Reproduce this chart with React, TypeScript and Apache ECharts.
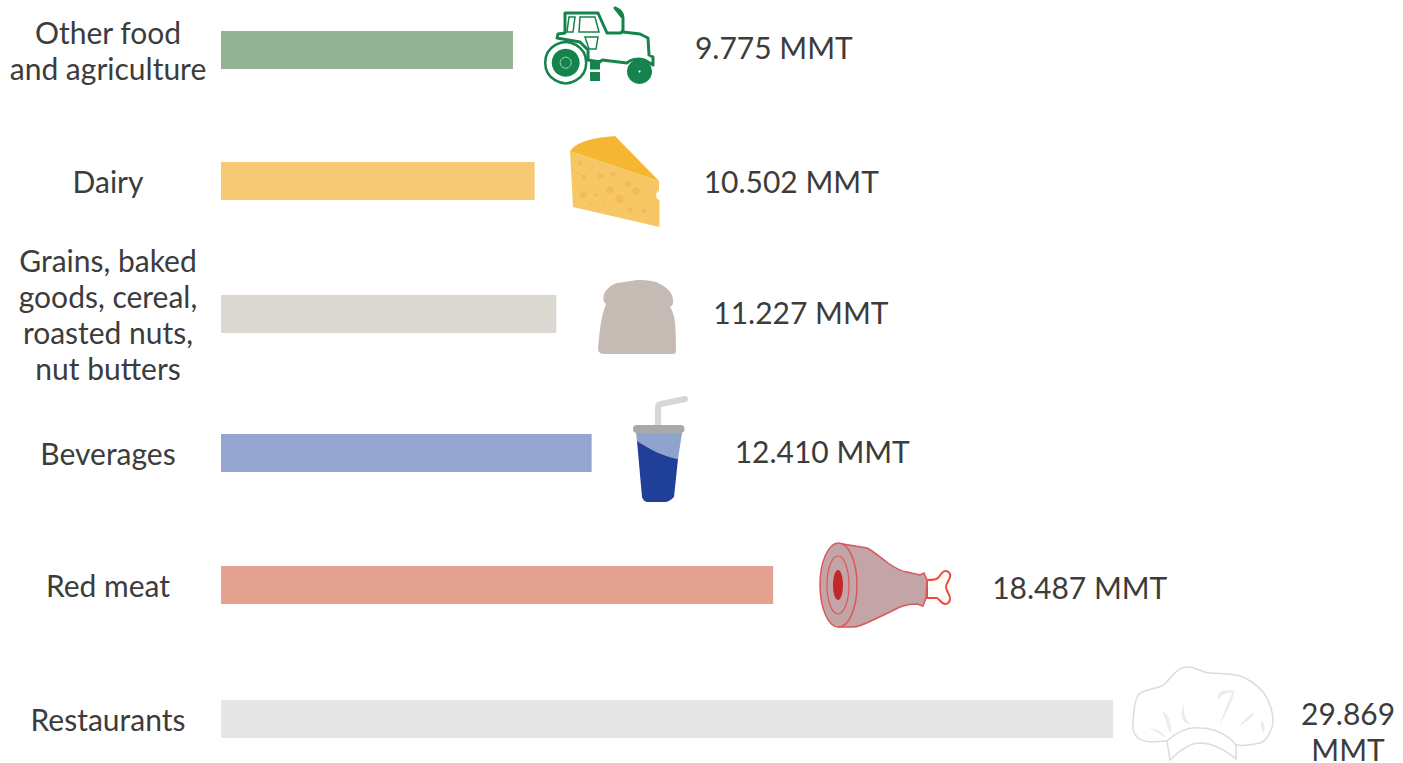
import React, { useEffect, useRef } from "react";
import * as echarts from "echarts";

const categories = [
  "Other food\nand agriculture",
  "Dairy",
  "Grains, baked\ngoods, cereal,\nroasted nuts,\nnut butters",
  "Beverages",
  "Red meat",
  "Restaurants",
];
const values = [9.775, 10.502, 11.227, 12.41, 18.487, 29.869];
const unit = "MMT";
const barColors = ["#93b195", "#f7c974", "#dbd8d2", "#94a6d0", "#e3a28f", "#e6e6e6"];

const FONT = "Lato";
const TEXT = "#3c3c3c";
const rowTops = [31, 162, 295, 434, 566, 700];
const catShift = [-6, -4, 4, -6, -4, -2];
const valueGap = [182, 169, 157, 143, 219, 235];
const valueShift = [-3, 0, -2, -2, 2, 12];

const SHAPES: Record<string, string> = {
  tractorBody:
    "M565 13 L598 13 L607 33 L621 33 L623 30 L623 18 L615 8 C620 10 623 13 623 18 L623 32 L640 34 L648 38 L649 55 L653 57 L653 65 L648 62 C642 58 632 58 627 63 L602 60 L600 62 L588 60 L588 50 L580 42 L557 38 L558 34 L565 33 Z",
  cheeseTop: "M570 151 C578 141 592 138 615 136 L659 181 Z",
  cheeseFront:
    "M570 151 L659 181 L659 191 C655 192 655 199 659.5 200 L659.5 227 L573 207 Z",
  bread:
    "M604 302 C601 294 608 286 617 283 C625 282 630 281 637 280 C648 280 656 281 660 284 C668 288 673 294 673 300 C674 304 672 306 670 307 C675 315 676 322 676 350 C676 353 675 354 673 354 L605 354 C600 354 598 352 598 348 C600 330 600 320 606 304 Z",
  cupLight: "M636 433 L682 433 L678 459 C662 456 650 449 637 441 Z",
  cupDark: "M637 441 C650 449 662 456 678 459 L674 497 C670 501 667 502 665 502 L648 502 C645 502 643 500 642 497 Z",
  straw: "M658 427 L658 408 C658 405 659 404 661 404 L685 399",
  hamBody:
    "M843 544 L867 548 C875 552 882 559 888 563 C895 568 900 571 907 572 L920 575 L924 573 L927 580 L926 598 L923 606 L917 604 C910 604 905 605 900 607 C890 612 880 617 873 620 C865 624 858 627 853 627 L838 627 L838 544 Z",
  hamBone:
    "M927 580 C932 580 936 580 938 578 C941 574 943 571 945 571 C949 571 951 574 950 577 C949 581 946 583 946 587 C946 591 950 594 950 598 C950 602 948 604 945 604 C942 604 940 600 937 598 L927 598 Z",
  hat: "M1167 741 C1155 742 1145 743 1138 738 C1134 734 1132 728 1133 722 C1134 710 1134 702 1138 695 C1144 689 1155 689 1162 686 C1170 681 1175 668 1186 667 C1195 666 1202 673 1210 673 C1222 674 1234 673 1243 677 C1255 683 1263 690 1267 698 C1271 706 1273 714 1273 722 C1272 732 1266 741 1260 743 C1252 745 1244 746 1236 745 Z",
  hatBand:
    "M1167 741 C1178 731 1190 727 1200 728 C1215 728 1228 735 1236 745 L1236 759 C1225 750 1212 743 1200 743 C1190 743 1180 750 1170 760 Z",
  hatShade1: "M1148 727 C1155 731 1161 735 1166 738 C1164 732 1155 729 1148 727 Z",
  hatShade2: "M1161 710 C1168 720 1166 730 1171 733 C1171 725 1171 716 1161 710 Z",
  hatShade3: "M1184 704 C1180 712 1180 722 1191 725 C1185 720 1183 712 1184 704 Z",
  hatShade4: "M1232 692 C1228 705 1222 715 1220 725 C1226 712 1232 705 1234 692 Z",
  hatShade5: "M1218 700 C1216 690 1228 688 1236 692 C1228 692 1222 694 1218 700 Z",
  hatShade6: "M1252 713 C1246 718 1242 722 1238 727 C1246 722 1250 719 1254 714 Z",
  hatShade7: "M1262 720 C1265 725 1265 730 1264 733 C1261 730 1260 725 1262 720 Z",
};
Object.entries(SHAPES).forEach(([name, d]) => {
  echarts.graphic.registerShape(name, echarts.graphic.extendPath(d, {}));
});

const GREEN = "#15834c";
const HAM = "#d9575a";
const CHEESE_HOLE = "#f0b658";
const cheeseHoles = [
  [580, 163, 2.5], [584, 177, 2.5], [601, 176, 3], [613, 174, 2.5], [628, 184, 3], [636, 191, 4],
  [583, 195, 3.2], [596, 195, 1.8], [610, 190, 4], [619.5, 199, 4.2], [591, 204, 1], [605, 205, 1.2],
  [630, 210, 2.5], [644, 211, 2], [578, 173, 1], [592, 167, 1],
];

const graphics: any[] = [
  // tractor
  { type: "tractorBody", style: { fill: "#fff", stroke: GREEN, lineWidth: 3, lineJoin: "round" } },
  { type: "rect", shape: { x: 590, y: 60, width: 10, height: 21 }, style: { fill: GREEN } },
  { type: "rect", shape: { x: 590, y: 69.5, width: 10, height: 2.5 }, style: { fill: "#fff" } },
  { type: "polygon", shape: { points: [[569, 17], [575, 17], [573, 32], [567, 32]] }, style: { fill: "#fff", stroke: GREEN, lineWidth: 1.5 } },
  { type: "polygon", shape: { points: [[580, 17], [595, 17], [599, 32], [579, 32]] }, style: { fill: "#fff", stroke: GREEN, lineWidth: 1.5 } },
  { type: "polygon", shape: { points: [[585, 37], [598, 37], [596, 49], [589, 49]] }, style: { fill: "#fff", stroke: GREEN, lineWidth: 1.5 } },
  { type: "circle", shape: { cx: 565.7, cy: 62.7, r: 20.5 }, style: { fill: "#fff", stroke: GREEN, lineWidth: 2.5 } },
  { type: "circle", shape: { cx: 565.7, cy: 62.7, r: 14 }, style: { fill: GREEN } },
  { type: "circle", shape: { cx: 565.7, cy: 62.7, r: 5.5 }, style: { fill: GREEN, stroke: "#a9d3bb", lineWidth: 1 } },
  { type: "circle", shape: { cx: 639.5, cy: 71.5, r: 12.5 }, style: { fill: GREEN } },
  { type: "circle", shape: { cx: 639.5, cy: 71.5, r: 1 }, style: { fill: "#fff" } },
  // cheese
  { type: "cheeseFront", style: { fill: "#f7c765" } },
  { type: "cheeseTop", style: { fill: "#f5b632" } },
  ...cheeseHoles.map(([cx, cy, r]) => ({ type: "circle", shape: { cx, cy, r }, style: { fill: CHEESE_HOLE, opacity: 0.8 } })),
  // bread
  { type: "bread", style: { fill: "#c5bab4" } },
  // drink
  { type: "straw", style: { fill: "none", stroke: "#d6d7d9", lineWidth: 6, lineCap: "round", lineJoin: "round" } },
  { type: "cupLight", style: { fill: "#8fa3cf" } },
  { type: "cupDark", style: { fill: "#1f3f99" } },
  { type: "rect", shape: { x: 633, y: 425, width: 51.5, height: 8, r: 4 }, style: { fill: "#a7a9ac" } },
  // ham
  { type: "hamBone", style: { fill: "#fffdf6", stroke: "#ef4a3c", lineWidth: 2 } },
  { type: "hamBody", style: { fill: "#c3a4a7", stroke: HAM, lineWidth: 1.5 } },
  { type: "ellipse", shape: { cx: 838.5, cy: 585, rx: 18.5, ry: 42 }, style: { fill: "#c3a4a7", stroke: HAM, lineWidth: 1.5 } },
  { type: "ellipse", shape: { cx: 838, cy: 585, rx: 11, ry: 29 }, style: { fill: "#c3a4a7", stroke: HAM, lineWidth: 1.2 } },
  { type: "ellipse", shape: { cx: 838, cy: 585, rx: 5, ry: 15 }, style: { fill: "#c1272d" } },
  // chef hat
  { type: "hat", style: { fill: "#fff", stroke: "#dcdcdc", lineWidth: 1.5 } },
  { type: "hatBand", style: { fill: "#fff", stroke: "#dcdcdc", lineWidth: 1.5 } },
  ...[1, 2, 3, 4, 5, 6, 7].map((i) => ({ type: `hatShade${i}`, style: { fill: "#ececec" } })),
];

const BAR_H = 38;

export default function App() {
  const ref = useRef<HTMLDivElement>(null);
  useEffect(() => {
    const chart = echarts.init(ref.current!, null, { renderer: "svg" });
    const idx = categories.map((_, i) => i);
    chart.setOption({
      animation: false,
      backgroundColor: "#fff",
      grid: idx.map((i) => ({ left: 221, width: 896, top: rowTops[i], height: BAR_H })),
      xAxis: idx.map((i) => ({ type: "value", gridIndex: i, min: 0, max: 30, show: false })),
      yAxis: idx.map((i) => ({
        type: "category",
        gridIndex: i,
        data: [categories[i]],
        axisLine: { show: false },
        axisTick: { show: false },
        splitLine: { show: false },
        axisLabel: {
          margin: 113,
          align: "center",
          fontFamily: FONT,
          fontSize: 30,
          lineHeight: 36,
          color: TEXT,
          padding: catShift[i] < 0 ? [0, 0, -2 * catShift[i], 0] : [2 * catShift[i], 0, 0, 0],
        },
      })),
      series: idx.map((i) => ({
        type: "bar",
        xAxisIndex: i,
        yAxisIndex: i,
        data: [values[i]],
        barWidth: BAR_H,
        itemStyle: { color: barColors[i] },
        label: {
          show: true,
          position: "right",
          distance: valueGap[i],
          offset: [0, valueShift[i]],
          fontFamily: FONT,
          fontSize: 30,
          lineHeight: 36,
          color: TEXT,
          align: i === 5 ? "center" : "left",
          formatter: (p: any) =>
            p.value.toFixed(3) + (i === 5 ? "\n" : " ") + unit,
        },
      })),
      graphic: { elements: graphics },
    });
    return () => chart.dispose();
  }, []);
  return <div ref={ref} style={{ position: "absolute", left: 0, top: 0, width: 1403, height: 763 }} />;
}
